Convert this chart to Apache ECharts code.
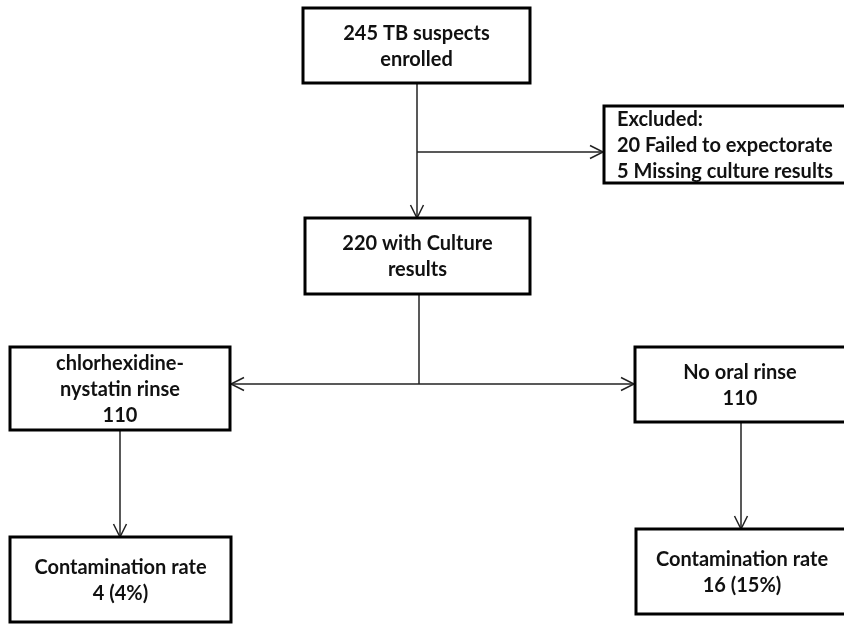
<!DOCTYPE html>
<html>
<head>
<meta charset="utf-8">
<script src="https://cdn.jsdelivr.net/npm/echarts@6/dist/echarts.min.js"></script>
<style>
  html, body { margin: 0; padding: 0; background: #fff; }
  #main { width: 844px; height: 624px; }
</style>
</head>
<body>
<div id="main"></div>
<script>
// box texts (flow counts)
var nodeLabels = [
  '245 TB suspects\nenrolled',
  'Excluded:\n20 Failed to expectorate\n5 Missing culture results',
  '220 with Culture\nresults',
  'chlorhexidine-\nnystatin rinse\n110',
  'No oral rinse\n110',
  'Contamination rate\n4 (4%)',
  'Contamination rate\n16 (15%)'
];
var nodeAlign = ['center', 'left', 'center', 'center', 'center', 'center', 'center'];

// layout in page units: [left, top, right, bottom]
var nodeBoxes = [
  [303, 8, 530, 83],
  [604, 106, 850, 183],
  [305, 218, 530, 294],
  [10, 347, 230, 430],
  [635, 347, 850, 422],
  [10, 537, 231, 622],
  [636, 529, 850, 614]
];
// text centre x where the box runs off the page
var textCenterX = [null, null, null, null, 740, null, 742];

// connectors: points, and whether it ends in an arrow
var edgePaths = [
  [[417, 83], [417, 218]],
  [[417, 152], [603, 152]],
  [[419, 294], [419, 384]],
  [[419, 384], [231, 384]],
  [[419, 384], [634, 384]],
  [[120, 430], [120, 537]],
  [[741, 422], [741, 529]]
];
var edgeArrow = [true, true, false, true, true, true, true];

var FONT = 'bold 20px Lato, "Open Sans", sans-serif';

var chart = echarts.init(document.getElementById('main'));

chart.setOption({
  animation: false,
  grid: { left: 0, right: 0, top: 0, bottom: 0 },
  xAxis: { type: 'value', min: 0, max: 844, show: false },
  yAxis: { type: 'value', min: 0, max: 624, inverse: true, show: false },
  series: [
    {
      type: 'custom',
      clip: true,
      data: edgePaths.map(function (p, i) { return [p[0][0], p[0][1], i]; }),
      renderItem: function (params, api) {
        var i = params.dataIndex;
        var pts = edgePaths[i].map(function (p) { return api.coord(p); });
        var children = [{
          type: 'polyline',
          shape: { points: pts },
          style: { stroke: '#222', lineWidth: 1.5, fill: null }
        }];
        if (edgeArrow[i]) {
          var a = pts[pts.length - 2], b = pts[pts.length - 1];
          var dx = b[0] - a[0], dy = b[1] - a[1];
          var len = Math.sqrt(dx * dx + dy * dy);
          var ux = dx / len, uy = dy / len;
          var L = 13, W = 6.5;
          children.push({
            type: 'polyline',
            shape: { points: [
              [b[0] - ux * L - uy * W, b[1] - uy * L + ux * W],
              [b[0], b[1]],
              [b[0] - ux * L + uy * W, b[1] - uy * L - ux * W]
            ] },
            style: { stroke: '#222', lineWidth: 1.5, fill: null }
          });
        }
        return { type: 'group', children: children };
      }
    },
    {
      type: 'custom',
      clip: true,
      data: nodeBoxes.map(function (b) { return b.slice(); }),
      renderItem: function (params, api) {
        var i = params.dataIndex;
        var p1 = api.coord([api.value(0), api.value(1)]);
        var p2 = api.coord([api.value(2), api.value(3)]);
        var align = nodeAlign[i];
        var tx;
        if (align === 'left') tx = p1[0] + 13;
        else if (textCenterX[i] != null) tx = api.coord([textCenterX[i], 0])[0];
        else tx = (p1[0] + p2[0]) / 2;
        return {
          type: 'group',
          children: [
            {
              type: 'rect',
              shape: { x: p1[0], y: p1[1], width: p2[0] - p1[0], height: p2[1] - p1[1] },
              style: { fill: '#fff', stroke: '#000', lineWidth: 3 }
            },
            {
              type: 'text',
              style: {
                text: nodeLabels[i],
                x: tx,
                y: (p1[1] + p2[1]) / 2 + 1,
                align: align,
                verticalAlign: 'middle',
                font: FONT,
                lineHeight: 26,
                fill: '#111'
              }
            }
          ]
        };
      }
    }
  ]
});

window.addEventListener('resize', function () {
  chart.resize();
});
</script>
</body>
</html>
